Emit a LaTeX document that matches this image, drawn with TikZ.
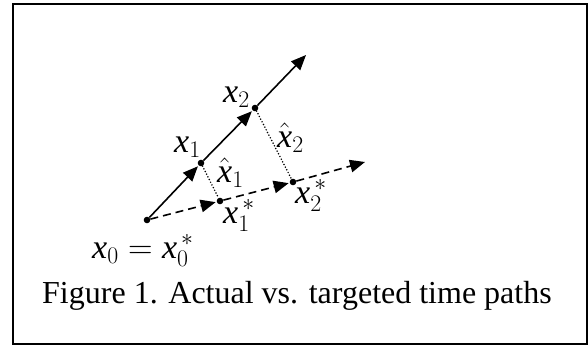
\RequirePackage{fix-cm}
\documentclass[tikz,border=0pt]{standalone}
\usepackage{fontspec}
\setmainfont{Liberation Serif}
\usetikzlibrary{arrows.meta}
\tikzset{
  boxframe/.style={draw=black,line width=1.8pt},
  pt/.style={circle,fill=black,inner sep=0pt,minimum size=6.6pt},
  actual/.style={-{Triangle[length=15pt,width=12.5pt]},line width=1.6pt,shorten >=1pt},
  target/.style={actual,dash pattern=on 8pt off 5pt},
  gap/.style={line width=1.7pt,line cap=round,dash pattern=on 0pt off 3pt},
  lbl/.style={font=\fontsize{34}{40}\selectfont,inner sep=0pt,anchor=base west},
  capt/.style={font=\fontsize{32}{38}\selectfont,inner sep=0pt,anchor=base west}
}
\newcommand{\xv}{\textit{x}}

\begin{document}
\begin{tikzpicture}[x=1pt,y=-1pt]
\useasboundingbox (0,0) rectangle (588,346);
\draw[boxframe] (13,4) rectangle (587,344);

% actual path
\node[pt] (x0) at (147,220) {};
\node[pt] (x1) at (201,163) {};
\node[pt] (x2) at (255,108) {};
\coordinate (xend) at (306,55);

% targeted path
\node[pt] (t1) at (220,201) {};
\node[pt] (t2) at (293,182) {};
\coordinate (tend) at (365,162);

\draw[actual] (x0) -- (x1);
\draw[actual] (x1) -- (x2);
\draw[actual,shorten >=0pt] (x2) -- (xend);
\draw[target] (x0) -- (t1);
\draw[target] (t1) -- (t2);
\draw[target,shorten >=0pt] (t2) -- (tend);
\draw[gap] (x1) -- (t1);
\draw[gap] (x2) -- (t2);

% labels
\node[lbl] (lx1) at (174,152) {$\xv_1$};
\node[lbl] (lx2) at (223,102) {$\xv_2$};
\node[lbl] (lh1) at (217,182) {$\hat{\xv}_1$};
\node[lbl] (lh2) at (277,147) {$\hat{\xv}_2$};
\node[lbl] (lt1) at (223,223) {$\xv_1^{\,*}$};
\node[lbl] (lt2) at (295,203) {$\xv_2^{\,*}$};
\node[lbl] (lx0) at (92,258) {$\xv_0 = \xv_0^{\,*}$};

\node[capt] (cap) at (42,303) {Figure 1. Actual vs. targeted time paths};
\end{tikzpicture}
\end{document}
